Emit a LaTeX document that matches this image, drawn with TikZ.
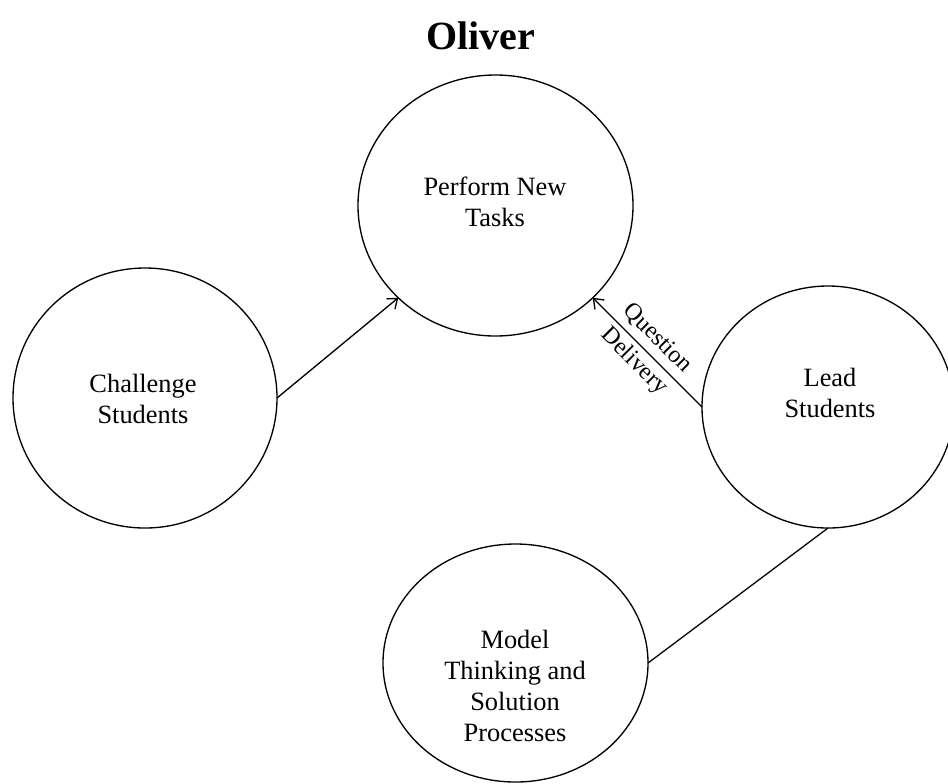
\documentclass[tikz,border=0pt]{standalone}
\usepackage{fontspec}
\setmainfont{Liberation Serif}
\usetikzlibrary{arrows.meta,shapes.geometric}
\begin{document}
\begin{tikzpicture}[x=0.75pt,y=-0.75pt,
  bubble/.style={draw, ellipse, line width=1pt, inner sep=0pt, outer sep=0pt},
  caption/.style={align=center, font=\fontsize{19.8}{23.25}\selectfont, inner sep=0pt},
  edgetext/.style={align=center, font=\fontsize{18}{24.5}\selectfont, inner sep=0pt},
  link/.style={line width=1pt},
  flow/.style={link, -{Straight Barb[length=6.5pt,width=10pt]}},
]
\useasboundingbox (0,0) rectangle (948,783);
\clip (0,0) rectangle (948,783);

% title
\node[font=\bfseries\fontsize{30}{36}\selectfont, inner sep=0pt] (title) at (481,36) {Oliver};

% the four bubbles
\node[bubble, minimum width=206.25pt, minimum height=195.75pt] (perf) at (495.5,205.5) {};
\node[bubble, minimum width=198pt, minimum height=195pt] (chal) at (145,398) {};
\node[bubble, minimum width=189pt, minimum height=181.5pt] (lead) at (828,407) {};
\node[bubble, minimum width=198.75pt, minimum height=178.5pt] (model) at (515.5,663) {};

% bubble texts
\node[caption] (perf-t) at (495,202) {Perform New\\Tasks};
\node[caption] (chal-t) at (143,399) {Challenge\\Students};
\node[caption] (lead-t) at (830,393) {Lead\\Students};
\node[caption] (model-t) at (515,686) {Model\\Thinking and\\Solution\\Processes};

% connectors
\draw[flow] (chal.east) -- (perf.south west);
\draw[flow] (lead.west) -- node[edgetext, pos=0.52, rotate=-45] (qd) {Question\\Delivery} (perf.south east);
\draw[link] (lead.south) -- (model.east);
\end{tikzpicture}
\end{document}
